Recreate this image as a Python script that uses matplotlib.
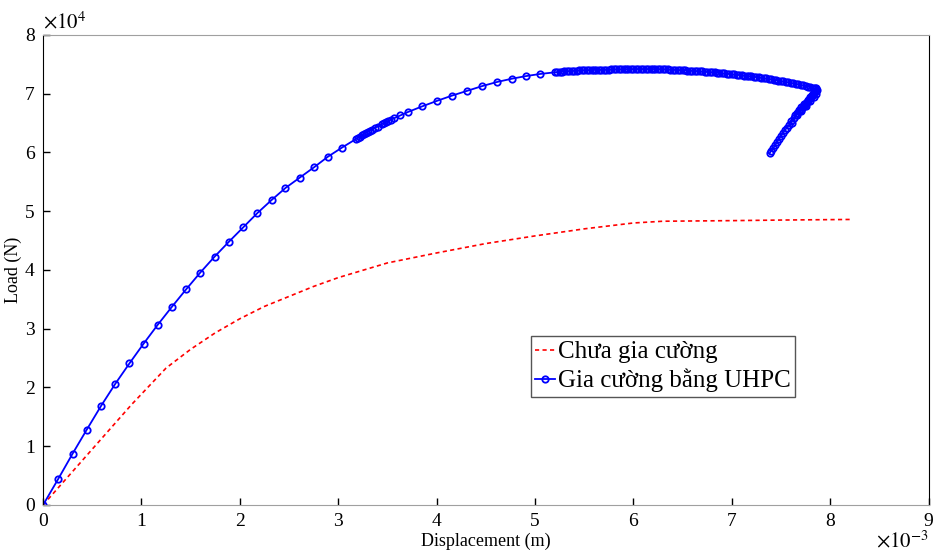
import numpy as np
import matplotlib
matplotlib.use('Agg')
import matplotlib.pyplot as plt

plt.rcParams['font.family'] = ['Liberation Serif', 'DejaVu Serif']
plt.rcParams['mathtext.fontset'] = 'stix'

# red curve: without strengthening (x in 1e-3 m, y in 1e4 N)
red_x = [0, 0.3, 0.6, 0.9, 1.25, 1.5, 1.75, 2.0, 2.25, 2.5, 2.75, 3.0, 3.5,
         4.0, 4.5, 5.0, 5.5, 6.0, 6.3, 7.0, 7.5, 8.2]
red_y = [0, 0.57, 1.14, 1.71, 2.33, 2.65, 2.93, 3.17, 3.38, 3.55, 3.72, 3.87,
         4.12, 4.29, 4.45, 4.58, 4.7, 4.8, 4.83, 4.84, 4.85, 4.86]

# blue curve: UHPC strengthened, loading branch
rise_x = [0, 0.154, 0.300, 0.444, 0.589, 0.733, 0.878, 1.022, 1.164, 1.308,
          1.453, 1.597, 1.743, 1.887, 2.035, 2.179, 2.323, 2.464, 2.609,
          2.754, 2.895, 3.037, 3.18, 3.20, 3.22, 3.24, 3.26, 3.28, 3.30,
          3.32, 3.34, 3.37, 3.40, 3.446, 3.47, 3.49, 3.51, 3.54, 3.564,
          3.63, 3.71, 3.855, 4.006, 4.16, 4.31, 4.463, 4.614, 4.766, 4.907,
          5.05]
rise_y = [0, 0.443, 0.873, 1.282, 1.685, 2.06, 2.41, 2.746, 3.064, 3.37,
          3.668, 3.954, 4.226, 4.477, 4.727, 4.970, 5.191, 5.396, 5.571,
          5.748, 5.928, 6.082, 6.23, 6.25, 6.27, 6.29, 6.31, 6.33, 6.35,
          6.37, 6.39, 6.42, 6.44, 6.485, 6.50, 6.52, 6.54, 6.56, 6.58,
          6.63, 6.69, 6.786, 6.88, 6.97, 7.05, 7.13, 7.20, 7.256, 7.30,
          7.336]

# blue curve: near-peak branch (densely sampled)
peak_x = [5.200, 5.225, 5.250, 5.275, 5.300, 5.325, 5.350, 5.375, 5.400,
          5.425, 5.450, 5.475, 5.500, 5.525, 5.550, 5.575, 5.600, 5.625,
          5.650, 5.675, 5.700, 5.725, 5.750, 5.775, 5.800, 5.825, 5.850,
          5.875, 5.900, 5.925, 5.950, 5.975, 6.000, 6.025, 6.050, 6.075,
          6.100, 6.125, 6.150, 6.175, 6.200, 6.225, 6.250, 6.275, 6.300,
          6.325, 6.350, 6.375, 6.400, 6.425, 6.450, 6.475, 6.500, 6.525,
          6.550, 6.575, 6.600, 6.625, 6.650, 6.675, 6.700, 6.725, 6.750,
          6.775, 6.800, 6.825, 6.850, 6.875, 6.900, 6.925, 6.950, 6.975,
          7.000, 7.025, 7.050, 7.075, 7.100, 7.125, 7.150, 7.175, 7.200,
          7.225, 7.250, 7.275, 7.300, 7.325, 7.350, 7.375, 7.400, 7.425,
          7.450, 7.475, 7.500, 7.525, 7.550, 7.575, 7.600, 7.625, 7.650,
          7.675, 7.700, 7.725, 7.750, 7.775, 7.800, 7.825, 7.850]
peak_y = [7.365, 7.369, 7.372, 7.376, 7.380, 7.383, 7.386, 7.389, 7.392,
          7.395, 7.397, 7.399, 7.400, 7.402, 7.403, 7.405, 7.406, 7.407,
          7.408, 7.409, 7.410, 7.411, 7.412, 7.413, 7.414, 7.415, 7.416,
          7.417, 7.418, 7.419, 7.419, 7.420, 7.420, 7.421, 7.421, 7.421,
          7.421, 7.421, 7.421, 7.420, 7.420, 7.420, 7.419, 7.418, 7.416,
          7.415, 7.413, 7.411, 7.409, 7.407, 7.405, 7.403, 7.400, 7.398,
          7.395, 7.393, 7.390, 7.388, 7.385, 7.382, 7.379, 7.376, 7.372,
          7.369, 7.365, 7.362, 7.358, 7.354, 7.350, 7.346, 7.342, 7.338,
          7.333, 7.329, 7.324, 7.319, 7.314, 7.310, 7.305, 7.300, 7.295,
          7.290, 7.284, 7.278, 7.272, 7.266, 7.260, 7.253, 7.246, 7.239,
          7.232, 7.225, 7.217, 7.209, 7.201, 7.193, 7.185, 7.177, 7.168,
          7.159, 7.150, 7.141, 7.131, 7.121, 7.111, 7.101, 7.090]

# blue curve: snap-back branch
back_x = [7.86, 7.87, 7.84, 7.86, 7.82, 7.84, 7.80, 7.78, 7.80, 7.75, 7.73,
          7.75, 7.70, 7.68, 7.70, 7.66, 7.64, 7.68, 7.72, 7.76, 7.80, 7.84,
          7.86, 7.82, 7.78, 7.74, 7.70, 7.66, 7.63, 7.60, 7.61, 7.58, 7.56,
          7.54, 7.52, 7.50, 7.48, 7.46, 7.44, 7.42, 7.40, 7.385]
back_y = [7.10, 7.06, 7.03, 7.00, 6.98, 6.95, 6.93, 6.90, 6.87, 6.85, 6.82,
          6.79, 6.77, 6.73, 6.70, 6.68, 6.64, 6.70, 6.78, 6.86, 6.94, 7.01,
          7.05, 6.96, 6.88, 6.80, 6.72, 6.64, 6.58, 6.53, 6.50, 6.46, 6.42,
          6.38, 6.33, 6.28, 6.23, 6.18, 6.12, 6.07, 6.03, 5.986]

blue_x = np.array(rise_x + peak_x + back_x) * 1e-3
blue_y = np.array(rise_y + peak_y + back_y) * 1e4
red_x = np.array(red_x) * 1e-3
red_y = np.array(red_y) * 1e4

fig = plt.figure(figsize=(9.36, 5.51), dpi=100)
ax = fig.add_axes([0.046, 0.0835, 0.946, 0.853])

ax.plot(red_x, red_y, color='red', lw=1.2, linestyle=(0, (2.5, 2)),
        label='Chưa gia cường')
ax.plot(blue_x, blue_y, color='blue', lw=1.3, marker='o', markersize=4.6,
        markerfacecolor='none', markeredgewidth=1.3,
        label='Gia cường bằng UHPC')

ax.set_xlim(0, 9e-3)
ax.set_ylim(0, 8e4)
ax.set_xticks(np.arange(0, 10) * 1e-3)
ax.set_xticklabels([str(i) for i in range(10)])
ax.set_yticks(np.arange(0, 9) * 1e4)
ax.set_yticklabels([str(i) for i in range(9)])
ax.tick_params(direction='in', length=5, width=1, labelsize=14, pad=6)

for side in ['top', 'bottom']:
    ax.spines[side].set_color('#a0a0a0')
for side in ['left', 'right']:
    ax.spines[side].set_color('black')

ax.set_xlabel('Displacement (m)', fontsize=13, labelpad=2)
ax.set_ylabel('Load (N)', fontsize=13, labelpad=2)

ax.text(0.0, 1.003, r'$\times10^{4}$', transform=ax.transAxes, fontsize=15,
        ha='left', va='bottom')
ax.text(1.0, -0.055, r'$\times10^{-3}$', transform=ax.transAxes, fontsize=15,
        ha='right', va='top')

leg = ax.legend(loc='lower left', bbox_to_anchor=(0.551, 0.23), fontsize=18,
                fancybox=False, framealpha=1, edgecolor='#555555',
                handlelength=0.8, handletextpad=0.1, borderpad=0.18,
                labelspacing=0.22, borderaxespad=0)
leg.get_frame().set_linewidth(1.0)

fig.savefig('out.png', dpi=100)
